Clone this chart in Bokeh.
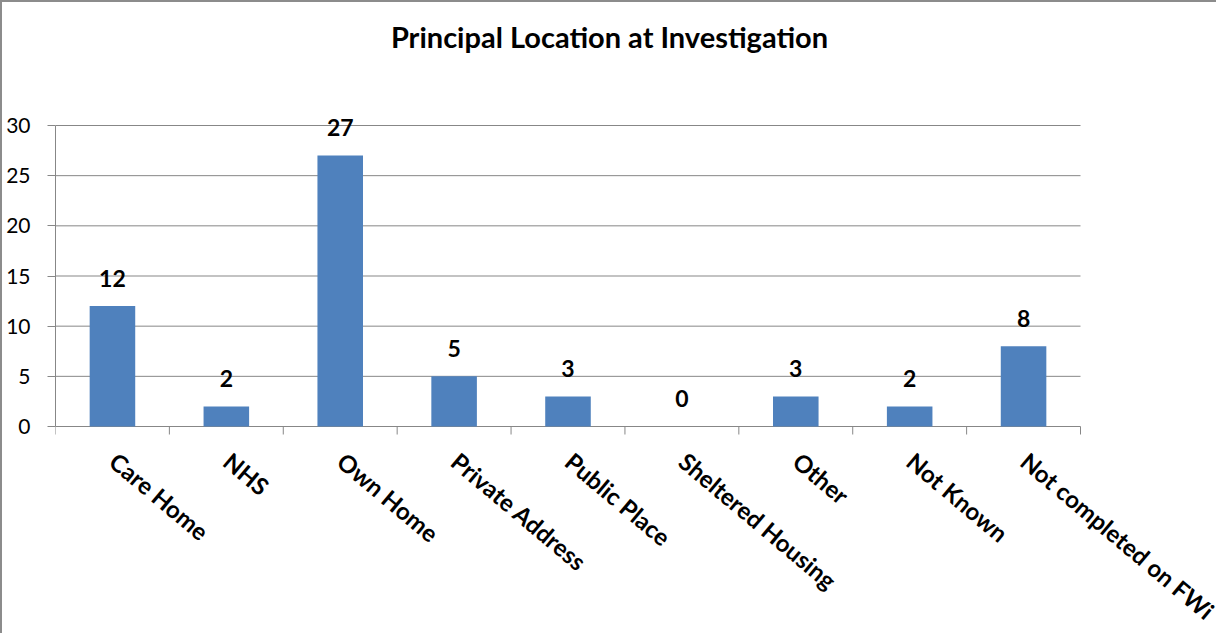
import math
from bokeh.plotting import figure
from bokeh.models import Range1d, FixedTicker, Label
from bokeh.embed import file_html
from bokeh.resources import INLINE
from bokeh.core.properties import value

categories = ["Care Home", "NHS", "Own Home", "Private Address", "Public Place",
              "Sheltered Housing", "Other", "Not Known", "Not completed on FWi"]
counts = [12, 2, 27, 5, 3, 0, 3, 2, 8]
y_ticks = [0, 5, 10, 15, 20, 25, 30]
title_text = "Principal Location at Investigation"

FONT = "Lato"
GRID = "#878787"
BAR = "#4F81BD"

n = len(categories)
xs = [i + 0.5 for i in range(n)]
y_max = y_ticks[-1]

# layout (pixels): canvas W x H; plot area inside it
W, H = 1216, 633
LEFT = 53            # plot-area left edge in canvas px
TOP = 123            # plot-area top (value 30)
BOTTOM = 424         # plot-area bottom (value 0)
RIGHT = 1078         # plot-area right edge
ph = BOTTOM - TOP
pw = RIGHT - LEFT
x_end = n * (W - LEFT) / pw
y_start = -y_max * (H - BOTTOM) / ph
y_end = y_max + y_max * TOP / ph

p = figure(width=W, height=H, output_backend="svg", toolbar_location=None,
           x_range=Range1d(0, x_end), y_range=Range1d(y_start, y_end),
           x_axis_location=None,
           min_border_left=LEFT, min_border_right=0, min_border_top=0,
           min_border_bottom=0)
p.outline_line_color = None
p.background_fill_color = "white"
p.border_fill_color = "white"
p.xgrid.visible = False
p.ygrid.visible = False

# gridlines and x axis line
p.segment(x0=[0] * len(y_ticks), y0=y_ticks, x1=[n] * len(y_ticks), y1=y_ticks,
          line_color=GRID, line_width=1)
# category boundary ticks
p.ray(x=list(range(n + 1)), y=[0] * (n + 1), length=8, length_units="screen",
      angle=-math.pi / 2, line_color=GRID, line_width=1)

p.vbar(x=xs, top=counts, width=0.4, fill_color=BAR, line_color=None)
p.text(x=xs, y=counts, text=[str(c) for c in counts], text_align="center",
       text_baseline="alphabetic", y_offset=-28, text_font=value(FONT),
       text_font_style="bold", text_font_size="23px", text_color="black")

# category labels
p.text(x=xs, y=[0] * n, text=categories, angle=-math.radians(40),
       text_align="left", text_baseline="middle", x_offset=1, y_offset=31,
       text_font=value(FONT), text_font_style="bold", text_font_size="24px",
       text_color="black")

# y axis
p.yaxis.ticker = FixedTicker(ticks=y_ticks)
p.yaxis.bounds = (0, y_max)
p.yaxis.major_tick_out = 8
p.yaxis.major_tick_in = 0
p.yaxis.major_tick_line_color = GRID
p.yaxis.minor_tick_line_color = None
p.yaxis.axis_line_color = GRID
p.yaxis.major_label_text_font = FONT
p.yaxis.major_label_text_font_size = "21px"
p.yaxis.major_label_text_color = "black"
p.yaxis.major_label_standoff = 17

title = Label(x=554, y=599, x_units="screen", y_units="screen", text=title_text,
              text_align="center", text_baseline="middle", text_font=FONT,
              text_font_style="bold", text_font_size="29px", text_color="black")
p.add_layout(title)

p.styles = {"border-left": "2px solid #8c8c8c", "border-top": "2px solid #8c8c8c"}

open("out.html", "w").write(file_html(p, INLINE))
